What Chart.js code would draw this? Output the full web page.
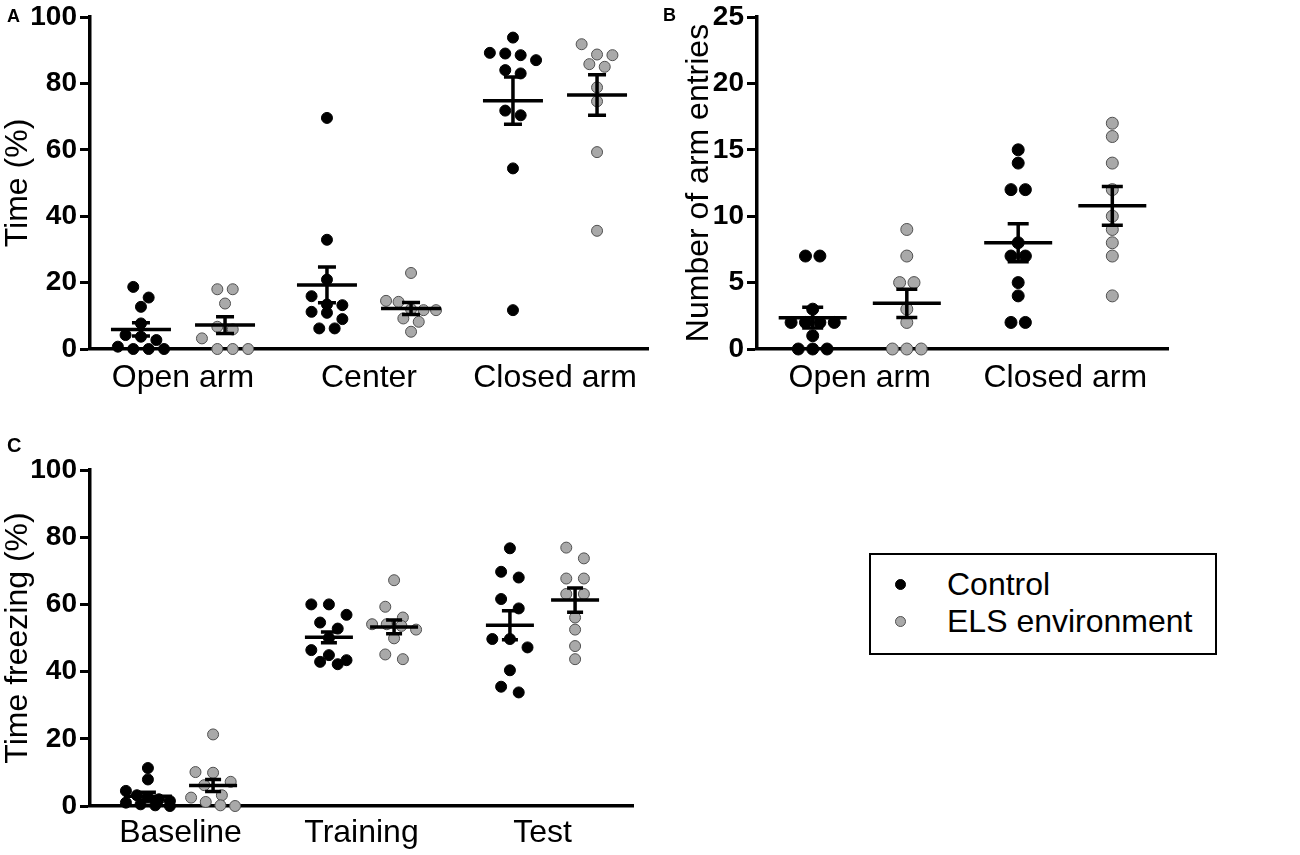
<!DOCTYPE html>
<html>
<head>
<meta charset="utf-8">
<title>EPM and fear conditioning</title>
<script src="https://cdn.jsdelivr.net/npm/chart.js@4.4.1/dist/chart.umd.min.js"></script>
<style>
    body { margin: 0; background: #fff; font-family: "Liberation Sans", Arial, sans-serif; }
    #page { position: relative; width: 1300px; height: 855px; overflow: hidden; }
    canvas { position: absolute; }
    .tag { position: absolute; font-weight: bold; line-height: 1; }
    .legend { position: absolute; left: 869px; top: 553px; width: 344px; height: 98px; border: 2px solid #000; }
    .legend .item { position: absolute; left: 76px; height: 37px; line-height: 37px; font-size: 32px; white-space: nowrap; }
    .legend .dot { position: absolute; left: -52px; top: 13px; width: 9px; height: 9px; border-radius: 50%; border: 1px solid; }
</style>
</head>
<body>
<div id="page">
    <canvas id="panelA" width="660" height="400" style="left:0;top:0"></canvas>
    <canvas id="panelB" width="530" height="400" style="left:650px;top:0"></canvas>
    <canvas id="panelC" width="660" height="435" style="left:0;top:420px"></canvas>
    <div class="tag" style="left:7px;top:7px;font-size:18px">A</div>
    <div class="tag" style="left:663px;top:6px;font-size:18px">B</div>
    <div class="tag" style="left:7px;top:435px;font-size:20px">C</div>
    <div class="legend" id="legend"></div>
</div>
<script>
// Groups
const groupNames = ['Control', 'ELS environment'];
const groupFill = ['#000000', '#a9a9a9'];
const groupEdge = ['#000000', '#505050'];

// A - time spent per zone (%)
const zoneNames = ['Open arm', 'Center', 'Closed arm'];
const timeControl = [
    [18.7, 15.5, 12.7, 7.7, 4.2, 3.7, 2.7, 0.7, 0, 0, 0],
    [69.6, 32.9, 20.9, 15.9, 13.4, 13.2, 11.2, 10.9, 9.0, 6.2, 6.2],
    [93.8, 89.2, 89.0, 88.5, 87.0, 84.0, 83.0, 71.8, 70.4, 54.4, 11.7]
];
const timeEls = [
    [18.0, 18.0, 13.7, 6.7, 5.9, 3.2, 0, 0, 0],
    [22.9, 14.5, 14.2, 12.0, 11.7, 11.7, 9.2, 8.2, 5.2],
    [91.8, 88.7, 88.5, 85.8, 85.0, 78.8, 74.6, 59.3, 35.6]
];
const timeMeanControl = [5.9, 19.3, 74.8];
const timeSemControl = [2.0, 5.4, 7.1];
const timeMeanEls = [7.2, 12.2, 76.5];
const timeSemEls = [2.5, 1.8, 6.1];
const timeTicks = [0, 20, 40, 60, 80, 100];

// B - number of arm entries
const armNames = ['Open arm', 'Closed arm'];
const entriesControl = [
    [7, 7, 3, 2, 2, 2, 2, 1, 0, 0, 0],
    [15, 14, 12, 12, 8, 7, 7, 5, 4, 2, 2]
];
const entriesEls = [
    [9, 7, 5, 5, 3, 2, 0, 0, 0],
    [17, 16, 14, 12, 10, 9, 8, 7, 4]
];
const entriesMeanControl = [2.36, 8.0];
const entriesSemControl = [0.78, 1.43];
const entriesMeanEls = [3.44, 10.78];
const entriesSemEls = [1.06, 1.46];
const entriesTicks = [0, 5, 10, 15, 20, 25];

// C - time freezing (%)
const phaseNames = ['Baseline', 'Training', 'Test'];
const freezeControl = [
    [11.3, 7.9, 4.5, 3.2, 2.5, 2.0, 1.5, 1.0, 0.5, 0.2, 0],
    [60.0, 60.0, 56.9, 54.6, 52.8, 50.0, 46.4, 44.9, 43.4, 42.9, 42.2],
    [76.7, 69.7, 68.0, 61.6, 58.8, 49.7, 49.7, 47.2, 40.4, 35.5, 33.8]
];
const freezeEls = [
    [21.3, 10.1, 9.9, 7.2, 6.2, 3.2, 2.5, 1.2, 0.2, 0],
    [67.2, 59.3, 56.1, 54.1, 54.1, 53.6, 52.5, 49.9, 45.1, 43.7],
    [76.9, 73.7, 67.7, 67.7, 63.1, 63.1, 56.1, 52.5, 47.6, 43.7]
];
const freezeMeanControl = [2.9, 50.2, 53.8];
const freezeSemControl = [1.2, 1.6, 4.3];
const freezeMeanEls = [6.1, 53.3, 61.3];
const freezeSemEls = [1.8, 2.05, 3.6];

const FONT = '"Liberation Sans", Arial, sans-serif';

// Prism-style scatter: dots closer than one symbol height share a row,
// and each row is spread sideways around the column centre
function swarm(chart, look) {
    const xs = chart.scales.x, ys = chart.scales.y;
    const pxPerUnit = xs.width / (xs.max - xs.min);
    const d = look.radius * 2;
    chart.data.datasets.forEach(ds => {
        const columns = new Map();
        ds.data.forEach(p => {
            if (!columns.has(p.cx)) columns.set(p.cx, []);
            columns.get(p.cx).push(p);
        });
        columns.forEach(col => {
            const rows = [];
            let rowTop = null;
            col.slice().sort((a, b) => b.y - a.y).forEach(p => {
                const py = ys.getPixelForValue(p.y);
                if (rowTop !== null && py - rowTop < d) {
                    rows[rows.length - 1].push(p);
                } else {
                    rows.push([p]);
                    rowTop = py;
                }
            });
            rows.forEach(row => {
                const n = row.length;
                let step = d * look.spread;
                if (n > 1 && (n - 1) * step / 2 > look.maxHalf) step = 2 * look.maxHalf / (n - 1);
                row.forEach((p, j) => { p.x = p.cx + (j - (n - 1) / 2) * step / pxPerUnit; });
            });
        });
    });
    chart.update('none');
}

function makePanel(canvasId, cats, groupValues, means, sems, yTicks, yTitle, look) {
    const offsets = [-look.offset, look.offset];

    const datasets = groupValues.map((cols, g) => ({
        label: groupNames[g],
        data: cols.flatMap((vals, i) => vals.map(v => ({ x: i + 0.5 + offsets[g], y: v, cx: i + 0.5 + offsets[g] }))),
        pointRadius: look.radius,
        pointHoverRadius: look.radius,
        pointBackgroundColor: groupFill[g],
        pointBorderColor: groupEdge[g],
        pointBorderWidth: 1,
        clip: false
    }));

    // mean line + SEM whiskers, drawn over the dots
    const meanSem = {
        id: 'meanSem',
        afterDatasetsDraw(chart) {
            const { ctx, scales: { x, y } } = chart;
            ctx.save();
            ctx.strokeStyle = '#000';
            ctx.lineWidth = 3.5;
            means.forEach((row, g) => row.forEach((m, i) => {
                const cx = x.getPixelForValue(i + 0.5 + offsets[g]);
                const ym = y.getPixelForValue(m);
                const yt = y.getPixelForValue(m + sems[g][i]);
                const yb = y.getPixelForValue(m - sems[g][i]);
                ctx.beginPath();
                ctx.moveTo(cx - look.barHalf, ym); ctx.lineTo(cx + look.barHalf, ym);
                ctx.moveTo(cx, yt); ctx.lineTo(cx, yb);
                ctx.moveTo(cx - look.capHalf, yt); ctx.lineTo(cx + look.capHalf, yt);
                ctx.moveTo(cx - look.capHalf, yb); ctx.lineTo(cx + look.capHalf, yb);
                ctx.stroke();
            }));
            ctx.restore();
        }
    };

    const chart = new Chart(document.getElementById(canvasId), {
        type: 'scatter',
        data: { datasets },
        options: {
            responsive: false,
            animation: false,
            events: [],
            layout: { padding: look.padding },
            plugins: { legend: { display: false }, tooltip: { enabled: false } },
            scales: {
                x: {
                    type: 'linear',
                    min: 0,
                    max: cats.length,
                    afterBuildTicks: axis => { axis.ticks = cats.map((c, i) => ({ value: i + 0.5 })); },
                    afterFit: s => { s.height = look.axisH; },
                    grid: { display: false, drawTicks: false },
                    border: { display: true, color: '#000', width: 3.5 },
                    ticks: {
                        callback: (v, i) => cats[i],
                        autoSkip: false,
                        maxRotation: 0,
                        padding: look.labelPad,
                        color: '#000',
                        font: { family: FONT, size: 32 }
                    }
                },
                y: {
                    min: yTicks[0],
                    max: yTicks[yTicks.length - 1],
                    afterBuildTicks: axis => { axis.ticks = yTicks.map(v => ({ value: v })); },
                    afterFit: s => { s.width = look.axisW; },
                    grid: { display: true, drawOnChartArea: false, drawTicks: true, tickLength: 10, tickWidth: 3, tickColor: '#000' },
                    border: { display: true, color: '#000', width: 3.5 },
                    ticks: {
                        padding: 3,
                        color: '#000',
                        font: { family: FONT, size: 28, weight: 'bold', lineHeight: 1 }
                    },
                    title: {
                        display: true,
                        text: yTitle,
                        color: '#000',
                        padding: { top: look.titlePad, bottom: 0 },
                        font: { family: FONT, size: 32, lineHeight: 1 }
                    }
                }
            }
        },
        plugins: [meanSem]
    });

    swarm(chart, look);
    return chart;
}

// Legend box
function buildLegend() {
    const box = document.getElementById('legend');
    groupNames.forEach((name, g) => {
        const item = document.createElement('div');
        item.className = 'item';
        item.style.top = (11 + g * 37) + 'px';
        item.innerHTML = `<span class="dot" style="background:${groupFill[g]};border-color:${groupEdge[g]}"></span>${name}`;
        box.appendChild(item);
    });
}

document.addEventListener('DOMContentLoaded', function() {
    makePanel('panelA', zoneNames, [timeControl, timeEls],
        [timeMeanControl, timeMeanEls], [timeSemControl, timeSemEls],
        timeTicks, 'Time (%)',
        { offset: 0.226, radius: 5.5, spread: 1.4, maxHalf: 25, barHalf: 30, capHalf: 9, axisW: 90, axisH: 51,
          labelPad: 10, titlePad: 2, padding: { top: 15, right: 12, left: 0, bottom: 0 } });

    makePanel('panelB', armNames, [entriesControl, entriesEls],
        [entriesMeanControl, entriesMeanEls], [entriesSemControl, entriesSemEls],
        entriesTicks, 'Number of arm entries',
        { offset: 0.229, radius: 6, spread: 1.2, maxHalf: 24, barHalf: 34, capHalf: 10.5, axisW: 107, axisH: 51,
          labelPad: 10, titlePad: 33, padding: { top: 16, right: 12, left: 0, bottom: 0 } });

    makePanel('panelC', phaseNames, [freezeControl, freezeEls],
        [freezeMeanControl, freezeMeanEls], [freezeSemControl, freezeSemEls],
        timeTicks, 'Time freezing (%)',
        { offset: 0.18, radius: 5.5, spread: 1.6, maxHalf: 22, barHalf: 24, capHalf: 8, axisW: 90, axisH: 49,
          labelPad: 8, titlePad: 2, padding: { top: 50, right: 27, left: 0, bottom: 0 } });

    buildLegend();
});
</script>
</body>
</html>
